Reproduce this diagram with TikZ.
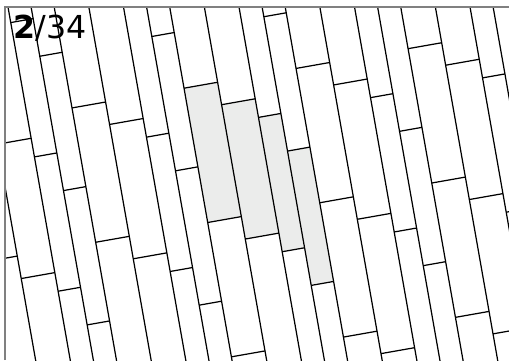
\documentclass[tikz,border=0pt]{standalone}
\usepackage{fontspec}
\setmainfont{DejaVu Sans}
\definecolor{plankgrey}{RGB}{235,236,235}

\begin{document}
\begin{tikzpicture}[
    x=0.02cm, y=0.02cm,
    border/.style={draw=black!50, line width=1pt},
    joint/.style={draw=black, line width=0.7pt},
    marked/.style={fill=plankgrey}
    ]

    \useasboundingbox (0,0) rectangle (509,-360);
    \coordinate (tl) at (5,-7);
    \coordinate (tr) at (509,-7);
    \coordinate (bl) at (5,-360);
    \coordinate (br) at (509,-360);

    % planks, turned by 10 degrees
    \begin{scope}
        \clip (tl) rectangle (br);
        \begin{scope}[shift={(8,-7)}, rotate=10]
            % the four marked planks
            \fill[marked] (159.25,-110.5) rectangle (193.38,-246.9);
            \fill[marked] (193.38,-133.3) rectangle (227.5,-269.7);
            \fill[marked] (227.5,-152.2) rectangle (250.25,-288.6);
            \fill[marked] (250.25,-190.4) rectangle (273,-326.8);

            \foreach \g in {-1,...,4}
            \foreach \a/\b/\o in {0/2/152.2, 2/4/54, 4/7/110.5, 7/10/133.3} {
                \draw[joint] ({(10*\g+\a)*11.375},60) -- ({(10*\g+\a)*11.375},-520);
                \foreach \k in {-2,...,3}
                    \draw[joint] ({(10*\g+\a)*11.375},{-(\o+136.4*(\k))})
                        -- ({(10*\g+\b)*11.375},{-(\o+136.4*(\k))});
            }
        \end{scope}
    \end{scope}

    \draw[border] (bl) -- (tl) -- (tr);
    \node (count) [anchor=base west, inner sep=0pt, font=\fontsize{18}{20}\selectfont] at (13,-38) {\textbf{2}/34};

\end{tikzpicture}
\end{document}
